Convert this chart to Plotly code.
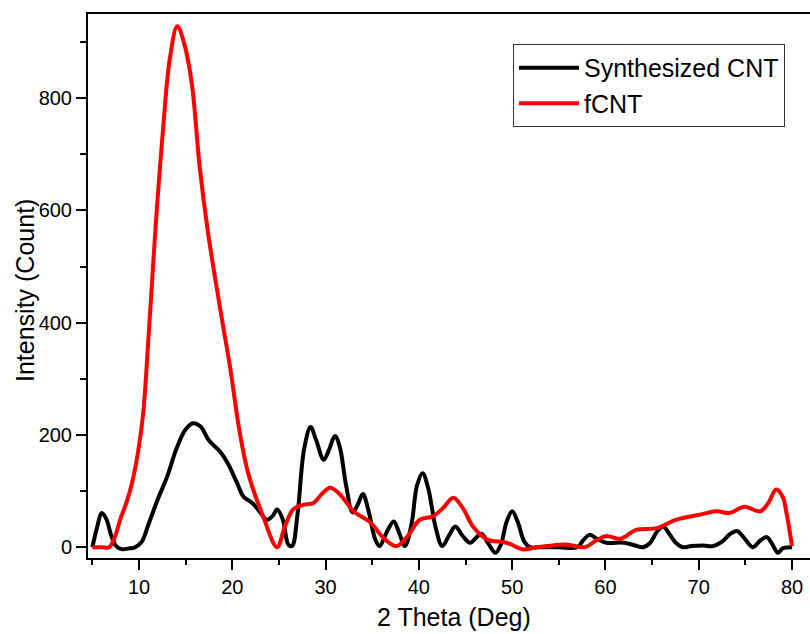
import plotly.graph_objects as go

# Synthesized CNT
cnt_x = [5.0, 5.5, 6.0, 6.5, 7.0, 7.5, 8.0, 9.0, 9.6, 10.3, 11.0, 12.0, 13.0, 14.0, 15.0, 15.8,
         16.6, 17.5, 18.7, 19.5, 20.5, 21.2, 22.2, 23.0, 23.7, 24.3, 24.8, 25.4, 26.0, 26.4,
         27.0, 27.7, 28.4, 29.0, 29.8, 30.4, 31.0, 31.5, 32.2, 32.9, 33.5, 34.0, 34.6, 35.3,
         35.8, 36.5, 37.3, 37.9, 38.5, 39.2, 39.8, 40.4, 41.0, 41.8, 42.5, 43.2, 43.9, 44.7,
         45.5, 46.2, 46.7, 47.5, 48.2, 48.8, 49.4, 50.0, 50.6, 51.3, 51.9, 53.0, 55.0, 57.0,
         57.6, 58.3, 59.2, 60.1, 62.0, 63.2, 64.0, 64.8, 65.5, 66.2, 66.8, 67.6, 68.3, 69.2,
         70.5, 71.5, 72.5, 73.4, 74.1, 74.8, 75.8, 76.6, 77.3, 77.9, 78.5, 79.0, 80.0]
cnt_y = [0, 35, 61, 50, 22, 3, -3, -2, 0, 10, 40, 85, 125, 175, 210, 221,
         215, 190, 170, 150, 115, 90, 78, 62, 49, 55, 67, 50, 5, 2,
         60, 175, 214, 190, 156, 175, 198, 180, 110, 62, 78, 95, 65, 15,
         2, 25, 46, 25, 2, 40, 110, 132, 105, 35, 2, 20, 37, 20,
         8, 18, 24, 5, -10, 5, 45, 64, 45, 10, 0, 0, 0, 0,
         12, 22, 14, 8, 8, 3, 0, 8, 27, 37, 25, 7, 0, 2,
         3, 2, 10, 24, 29, 18, 0, 12, 18, 5, -10, -2, 0]

# fCNT
fcnt_x = [5.0, 6.0, 6.8, 7.4, 8.0, 8.7, 9.3, 9.9, 10.45, 11.0, 11.5, 11.9, 12.6, 13.3, 14.1,
          14.8, 15.65, 16.5, 17.4, 18.9, 19.75, 20.8, 21.7, 23.3, 24.8, 25.6, 26.5, 27.5,
          28.7, 29.6, 30.5, 31.5, 33.0, 34.8, 36.3, 37.6, 38.8, 40.1, 41.5, 42.6, 43.7,
          44.7, 45.8, 47.3, 49.4, 51.2, 52.5, 53.7, 55.8, 57.8, 59.0, 60.1, 61.6, 63.3,
          65.5, 67.6, 70.1, 71.9, 73.3, 74.9, 76.6, 77.5, 78.3, 79.0, 79.4, 80.0]
fcnt_y = [0, 0, 0, 18, 50, 82, 118, 170, 239, 370, 500, 600, 750, 870, 928,
          900, 827, 678, 560, 405, 322, 204, 132, 55, 0, 35, 67, 75,
          79, 95, 106, 95, 64, 44, 15, 2, 20, 49, 55, 70, 88,
          70, 37, 14, 8, -4, 0, 2, 5, 0, 12, 20, 15, 31,
          34, 49, 58, 64, 61, 72, 64, 80, 103, 90, 62, 2]

xticks = [10, 20, 30, 40, 50, 60, 70, 80]
yticks = [0, 200, 400, 600, 800]

FONT = "Liberation Sans, Arial, sans-serif"

fig = go.Figure()
fig.add_trace(go.Scatter(x=cnt_x, y=cnt_y, mode="lines", name="Synthesized CNT",
                         line=dict(color="black", width=4, shape="spline", smoothing=1)))
fig.add_trace(go.Scatter(x=fcnt_x, y=fcnt_y, mode="lines", name="fCNT",
                         line=dict(color="#ff0000", width=4, shape="spline", smoothing=1)))

fig.update_layout(
    width=810, height=634,
    margin=dict(l=88, r=0, t=14, b=76),
    paper_bgcolor="white", plot_bgcolor="white",
    font=dict(family=FONT, color="black", size=20),
    showlegend=True,
    legend=dict(x=0.5886, y=0.945, xanchor="left", yanchor="top",
                bgcolor="white", bordercolor="#333", borderwidth=1,
                font=dict(family=FONT, size=25, color="black"),
                itemwidth=60, tracegroupgap=0),
    xaxis=dict(range=[4.53, 81.93], tickvals=xticks, ticktext=[str(v) for v in xticks],
               showgrid=False, zeroline=False, showline=True, linecolor="black", linewidth=2,
               mirror=True, ticks="outside", ticklen=10, tickwidth=2, tickcolor="black",
               tickfont=dict(size=20, family=FONT),
               minor=dict(dtick=5, tick0=0, ticks="outside", ticklen=5, tickwidth=2, tickcolor="black"),
               automargin=False),
    yaxis=dict(range=[-19.2, 950], tickvals=yticks, ticktext=[str(v) for v in yticks],
               showgrid=False, zeroline=False, showline=True, linecolor="black", linewidth=2,
               mirror=False, ticks="outside", ticklen=10, tickwidth=2, tickcolor="black",
               tickfont=dict(size=20, family=FONT),
               minor=dict(dtick=100, tick0=0, ticks="outside", ticklen=6, tickwidth=2, tickcolor="black"),
               automargin=False),
    annotations=[
        dict(text="2 Theta (Deg)", xref="paper", yref="paper", x=0.5, y=0,
             xanchor="center", yanchor="middle", yshift=-59, xshift=5, showarrow=False,
             font=dict(family=FONT, size=25, color="black")),
        dict(text="Intensity (Count)", xref="paper", yref="paper", x=0, y=0.5,
             xanchor="center", yanchor="middle", xshift=-63, yshift=-5, textangle=-90,
             showarrow=False, font=dict(family=FONT, size=25, color="black")),
    ],
)

fig.write_html("out.html", config={"displayModeBar": False},
               post_script="document.body.style.margin='0px';")
